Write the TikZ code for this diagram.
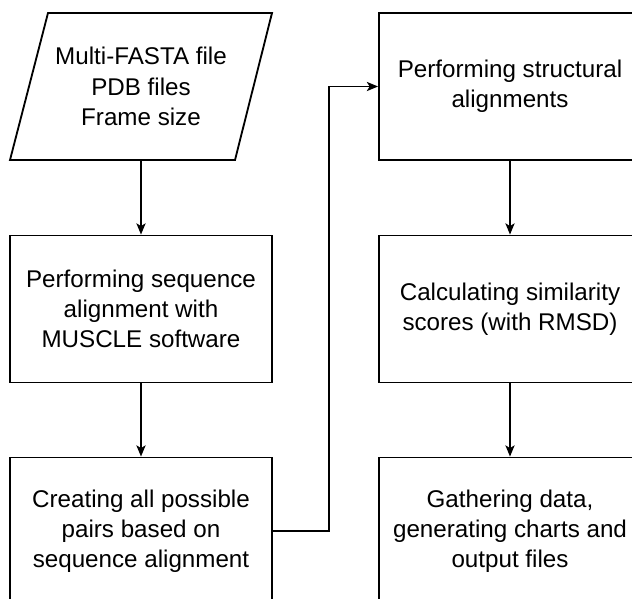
\documentclass[tikz,border=0pt]{standalone}
\usepackage{fontspec}
\setmainfont{Liberation Sans}
\usepackage{tikz}
\usetikzlibrary{arrows.meta,backgrounds,positioning}
\pgfdeclarelayer{edgelayer}
\pgfdeclarelayer{nodelayer}
\pgfsetlayers{nodelayer,main,edgelayer}
\tikzset{
	stepbox/.style={draw, line width=1.3pt, minimum width=6.55cm, minimum height=3.675cm, align=center, font=\fontsize{17.2pt}{21.4pt}\selectfont},
	txt/.style={align=center, font=\fontsize{17.2pt}{21.4pt}\selectfont},
	flow/.style={line width=1.4pt, -{Stealth[length=8pt, width=6.5pt, inset=2pt]}}
}
\begin{document}
\begin{tikzpicture}
	\useasboundingbox (0, 0) rectangle (15.8, -14.95);
	\begin{scope}
	\clip (0, 0) rectangle (15.8, -14.95);
	\begin{pgfonlayer}{nodelayer}
		\coordinate (0) at (1.2, -0.325);
		\coordinate (1) at (6.8, -0.325);
		\coordinate (2) at (5.875, -4);
		\coordinate (3) at (0.25, -4);
		\coordinate (4) at (3.525, -4);
		\node [txt] (input) at (3.525, -2.16) {Multi-FASTA file\\PDB files\\Frame size};
		\node [stepbox] (seq) at (3.525, -7.725) {Performing sequence\\alignment with\\MUSCLE software};
		\node [stepbox] (pairs) at (3.525, -13.275) {Creating all possible\\pairs based on\\sequence alignment};
		\node [stepbox] (struct) at (12.75, -2.1625) {Performing structural\\alignments};
		\node [stepbox] (score) at (12.75, -7.725) {Calculating similarity\\scores (with RMSD)};
		\node [stepbox] (out) at (12.75, -13.275) {Gathering data,\\generating charts and\\output files};
		\coordinate (5) at (8.225, -13.275);
		\coordinate (6) at (8.225, -2.1625);
	\end{pgfonlayer}
	\begin{pgfonlayer}{edgelayer}
		\draw [line width=1.3pt] (0) -- (1) -- (2) -- (3) -- cycle;
		\draw [flow] (4) to (seq.north);
		\draw [flow] (seq.south) to (pairs.north);
		\draw [flow] (pairs.east) to (5.center) to (6.center) to (struct.west);
		\draw [flow] (struct.south) to (score.north);
		\draw [flow] (score.south) to (out.north);
	\end{pgfonlayer}
	\end{scope}
\end{tikzpicture}
\end{document}
